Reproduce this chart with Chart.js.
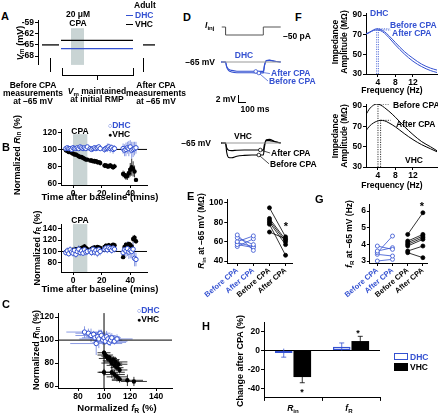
<!DOCTYPE html>
<html><head><meta charset="utf-8">
<script src="https://cdn.jsdelivr.net/npm/chart.js@4.4.0/dist/chart.umd.min.js"></script>
<style>
body{margin:0;background:#fff}
#fig{position:relative;width:438px;height:414px;overflow:hidden;font-family:"Liberation Sans",Arial,sans-serif;font-weight:bold;font-size:8.5px;color:#000}
#fig canvas{position:absolute}
.tx{position:absolute;white-space:nowrap;line-height:1}
.tx sub{font-size:72%;vertical-align:-0.3em;line-height:0}
.ln{position:absolute;background:#000}
</style></head><body><div id="fig"></div>
<script>
const BLUE = '#3451d1';
const GRAYBOX = '#c9d4d4';

// A: protocol schematic (arbitrary time units, mV)
const aYTicks = [-68, -65, -62, -59];
const aBeforeT = [4, 21], aBeforeV = [-65, -65];
const aHoldT = [23, 95], aHoldDHC = [-66, -66], aHoldVHC = [-63.8, -63.8];
const aAfterT = [105, 117], aAfterV = [-65, -65];
const aCpa = [33, 46];

// B: time course (min, % of baseline)
const bTime = [-5,-4,-3,-2,-1,0,1,2,3,4,5,6,7,8,9,10,12,13,14,15,16,17,18,19,22,23,24,25,26,27,28,29,35,36,37,38,39,40,41,42,43,44];
const bDhcRin = [101,102,101,101,100,102,101,101,102,101,103,102,101,102,101,103,101,100,101,102,101,102,103,101,100,101,102,103,101,102,100,101,101,99,100,102,101,103,99,100,101,102];
const bDhcRinErr = [2,2,2,2,2,2,2,2,2,2,2,2,2,2,2,2,3,3,3,3,3,3,3,3,4,4,5,4,5,4,5,4,6,7,8,7,9,8,10,9,8,7];
const bVhcRin = [99,98,97,97,96,95,94,94,93,92,91,91,90,89,88,88,87,87,86,86,86,85,85,84,81,81,80,80,81,80,79,80,71,70,68,69,72,76,79,77,74,64];
const bVhcRinErr = [1,1,1,1,1,1,1,1,2,2,2,2,2,2,2,2,2,2,2,3,2,3,2,3,3,3,3,3,3,3,3,3,4,4,4,5,6,8,10,9,7,2];
const bDhcFr = [98,101,96,103,99,97,102,95,100,104,98,101,97,103,99,100,101,98,104,99,102,97,103,100,104,106,103,107,105,102,106,104,98,103,101,105,99,102,100,104,88,86];
const bDhcFrErr = [5,6,5,6,5,6,7,6,5,7,6,6,5,7,6,6,5,6,7,6,6,7,6,7,6,7,6,7,6,6,7,6,10,12,11,13,12,14,12,13,14,12];
const bVhcFr = [99,101,100,102,101,103,102,104,103,105,104,106,107,109,106,104,103,105,106,107,105,108,107,106,108,110,109,111,108,110,112,111,90,108,112,110,113,111,109,122,124,118];
const bVhcFrErr = [2,2,2,2,2,3,2,3,2,3,3,3,3,4,3,3,3,3,3,4,3,3,4,3,3,4,3,4,3,4,3,4,3,5,4,5,4,5,6,6,5,4];
const bCpa = [0, 10];

// C: normalized fR vs normalized Rin
const cDhcF = [85,88,90,92,93,95,96,97,98,99,100,101,102,103,104,105,106,108,110,94];
const cDhcFErr = [14,10,12,8,10,9,15,8,11,7,12,9,10,8,13,9,7,10,12,20];
const cDhcR = [107,106,104,105,102,103,101,106,104,100,102,99,103,101,98,100,102,99,101,97];
const cDhcRErr = [5,4,6,3,5,4,8,3,5,4,6,3,5,4,3,5,4,3,4,10];
const cVhcF = [100,101,102,103,104,105,106,107,108,109,110,111,112,106,108,100,110,112,118,123];
const cVhcFErr = [5,6,4,7,5,6,8,5,6,9,5,7,6,10,8,5,8,6,12,10];
const cVhcR = [89,87,86,84,85,82,80,83,78,81,76,79,74,72,70,72,68,66,65,64];
const cVhcRErr = [2,3,2,3,2,3,4,3,3,4,3,4,3,5,4,3,4,3,5,4];

// D: voltage responses (ms, mV) and current step (pA)
const stimTime = [-50, 0, 0, 500, 500, 730];
const stimAmp = [0, 0, -50, -50, 0, 0];
const dTime = [-60, 0, 15, 40, 80, 150, 250, 350, 450, 500, 515, 540, 580, 650, 730];
const dDhcBefore = [-65,-65,-66.3,-67.1,-67.5,-67.7,-67.7,-67.7,-67.75,-67.75,-66.0,-64.6,-64.5,-64.8,-65];
const dDhcAfter = [-65,-65,-66.1,-66.8,-67.1,-67.3,-67.3,-67.3,-67.35,-67.35,-65.8,-64.7,-64.6,-64.8,-65];
const dVhcBefore = [-65,-65,-67.3,-68.6,-68.7,-68.3,-68.1,-68.0,-68.0,-68.0,-66.0,-64.2,-64.1,-64.6,-65];
const dVhcAfter = [-65,-65,-66.2,-66.8,-66.9,-66.8,-66.75,-66.75,-66.75,-66.75,-65.3,-64.4,-64.4,-64.7,-65];
const dBaseT = [-50, 730];

// E, G: paired values
const eLabels = ['Before CPA', 'After CPA', 'Before CPA', 'After CPA'];
const eDhcBefore = [67, 64, 60, 57, 55, 59];
const eDhcAfter = [51, 57, 66, 54, 63, 55];
const eVhcBefore = [95, 84, 82, 80, 78, 70];
const eVhcAfter = [65, 62, 60, 57, 46, 63];
const gDhcBefore = [3.9, 3.6, 3.5, 3.4, 3.0];
const gDhcAfter = [3.7, 3.8, 4.5, 3.3, 3.1];
const gVhcBefore = [4.6, 4.2, 4.1, 4.0, 3.9, 3.6, 3.5];
const gVhcAfter = [5.9, 4.6, 4.5, 4.4, 4.3, 3.9, 3.2];

// F: impedance profiles (Hz, MOhm)
const fFreq = [1.3, 2, 3, 3.7, 4.5, 5.5, 6.5, 8, 10, 12, 14, 16, 17.5];
const fDhcBefore = [71, 72.5, 75, 76, 75.5, 73, 69, 62, 53, 46, 40, 36, 34];
const fDhcAfter = [70.5, 72, 74.3, 74.8, 74.3, 71.5, 67, 59.5, 50.5, 43, 37.5, 33.5, 31.5];
const fVhcBefore = [82, 87, 91, 92, 91.3, 88.5, 85, 79, 70, 62, 55, 50, 46];
const fVhcAfter = [66, 70, 73.5, 75, 76, 75.5, 73.5, 69.5, 63, 57, 52, 48, 45];
const fDhcPeakF = [3.7, 4.1], fDhcPeakZ = [76, 74.8];
const fVhcPeakF = [4.0, 4.6], fVhcPeakZ = [92, 76];

// H: change after CPA (%)
const hCats = ['Rin', 'fR'];
const hDhc = [-2.5, 4], hDhcErr = [4.5, 4];
const hVhc = [-28, 10], hVhcErr = [6, 5];

Chart.defaults.font.family = '"Liberation Sans", Arial, sans-serif';
Chart.defaults.font.size = 8.5;
Chart.defaults.font.weight = 'bold';
Chart.defaults.color = '#000';
Chart.defaults.animation = false;
Chart.defaults.responsive = false;
Chart.defaults.events = [];
Chart.defaults.plugins.legend.display = false;
Chart.defaults.plugins.tooltip.enabled = false;

const shade = {
  id: 'shade',
  beforeDatasetsDraw(chart, args, o) {
    if (!o || o.x0 === undefined) return;
    const {ctx, chartArea: a, scales: {x, y}} = chart;
    const l = x.getPixelForValue(o.x0), r = x.getPixelForValue(o.x1);
    const top = o.y1 === undefined ? a.top : y.getPixelForValue(o.y1);
    ctx.save();
    ctx.fillStyle = GRAYBOX;
    ctx.fillRect(l, top, r - l, a.bottom - top);
    ctx.restore();
  }
};

const errorBars = {
  id: 'errorBars',
  beforeDatasetsDraw(chart) {
    const {ctx, scales: {x, y}} = chart;
    chart.data.datasets.forEach((ds, i) => {
      if (!ds.errY && !ds.errX) return;
      const meta = chart.getDatasetMeta(i);
      ctx.save();
      ctx.strokeStyle = ds.errColor || ds.borderColor;
      ctx.lineWidth = ds.errWidth || 0.8;
      ctx.beginPath();
      meta.data.forEach((el, j) => {
        const raw = ds.data[j];
        const vy = typeof raw === 'number' ? raw : raw.y;
        if (ds.errY) {
          const y0 = y.getPixelForValue(vy - ds.errY[j]), y1 = y.getPixelForValue(vy + ds.errY[j]);
          ctx.moveTo(el.x, y0); ctx.lineTo(el.x, y1);
          if (ds.cap) {
            const yc = vy < 0 ? y0 : y1;
            ctx.moveTo(el.x - ds.cap, yc); ctx.lineTo(el.x + ds.cap, yc);
          }
        }
        if (ds.errX) {
          const x0 = x.getPixelForValue(raw.x - ds.errX[j]), x1 = x.getPixelForValue(raw.x + ds.errX[j]);
          ctx.moveTo(x0, el.y); ctx.lineTo(x1, el.y);
        }
      });
      ctx.stroke();
      ctx.restore();
    });
  }
};
Chart.register(shade, errorBars);

const fig = document.getElementById('fig');
const pts = (xs, ys) => xs.map((x, i) => ({x, y: ys[i]}));
const seg = (xs, ys, color, w, dash) => ({
  data: pts(xs, ys), showLine: true, borderColor: color, borderWidth: w || 1.2,
  pointRadius: 0, borderDash: dash || [], tension: 0, order: 5
});
const curve = (xs, ys, color, w) => Object.assign(seg(xs, ys, color, w), {cubicInterpolationMode: 'monotone'});
const dhcPts = {pointRadius: 2.2, pointBackgroundColor: '#fff', pointBorderColor: BLUE, pointBorderWidth: 1, borderColor: BLUE, errColor: '#6f83dc'};
const vhcPts = {pointRadius: 2.2, pointBackgroundColor: '#000', pointBorderColor: '#000', pointBorderWidth: 0, borderColor: '#000'};

function axis(min, max, ticks, extra) {
  return Object.assign({
    type: 'linear', min, max,
    afterBuildTicks: s => { s.ticks = ticks.map(v => ({value: v})); },
    grid: {drawOnChartArea: false, drawTicks: true, tickLength: 3, tickColor: '#000', color: '#000', lineWidth: 1},
    border: {color: '#000', width: 1},
    ticks: {color: '#000', padding: 1, autoSkip: false, maxRotation: 0, minRotation: 0}
  }, extra || {});
}

function makeChart(area, ax, xh, cfg) {
  const [l, t, r, b] = area, pt = 6, pr = 6;
  const c = document.createElement('canvas');
  c.width = r - l + ax + pr; c.height = b - t + pt + xh;
  c.style.left = (l - ax) + 'px'; c.style.top = (t - pt) + 'px';
  fig.appendChild(c);
  const sc = cfg.options.scales;
  const pad = {left: 0, top: pt, right: pr, bottom: 0};
  if (sc.y.display === false) pad.left = ax; else sc.y.afterFit = s => { s.width = ax; };
  if (sc.x.display === false) pad.bottom = xh; else sc.x.afterFit = s => { s.height = xh; };
  cfg.options.layout = {autoPadding: false, padding: pad};
  return new Chart(c, cfg);
}

function txt(html, x, y, o) {
  o = o || {};
  const d = document.createElement('div');
  d.className = 'tx';
  d.innerHTML = html;
  d.style.left = x + 'px'; d.style.top = y + 'px';
  const tx = {l: '0%', c: '-50%', r: '-100%'}[o.a || 'l'];
  d.style.transform = 'translate(' + tx + ',-50%)' + (o.rot ? ' rotate(' + o.rot + 'deg)' : '');
  if (o.size) d.style.fontSize = o.size + 'px';
  if (o.color) d.style.color = o.color;
  fig.appendChild(d);
}
function rect(x, y, w, h, css) {
  const d = document.createElement('div');
  d.className = 'ln';
  d.style.cssText += 'left:' + x + 'px;top:' + y + 'px;width:' + w + 'px;height:' + h + 'px;' + (css || '');
  fig.appendChild(d);
}
const hl = (x1, x2, y, c) => rect(x1, y, x2 - x1, 1, c ? 'background:' + c : '');
const vl = (x, y1, y2) => rect(x, y1, 1, y2 - y1);

// ---------- A ----------
makeChart([38, 20, 155, 71], 18, 0, {
  type: 'scatter',
  data: {datasets: [
    seg(aBeforeT, aBeforeV, '#000', 1.3), seg(aHoldT, aHoldVHC, '#000', 1.3),
    seg(aHoldT, aHoldDHC, BLUE, 1.3), seg(aAfterT, aAfterV, '#000', 1.3)
  ]},
  options: {
    scales: {x: {display: false, min: 0, max: 117}, y: axis(-70.4, -58.3, aYTicks)},
    plugins: {shade: {x0: aCpa[0], x1: aCpa[1], y1: -60.5}}
  }
});
vl(50, 58, 72); vl(143, 58, 72);
vl(62, 68, 75); vl(133, 68, 75); hl(62, 134, 75); vl(97, 75, 80);
hl(126, 133, 15, BLUE); hl(126, 133, 24);

// ---------- B ----------
const bScaleX = () => axis(-8.4, 51.7, [0, 20, 40]);
makeChart([61, 129, 147, 185], 22, 12, {
  type: 'scatter',
  data: {datasets: [
    Object.assign({data: pts(bTime, bDhcRin), errY: bDhcRinErr, order: 0}, dhcPts),
    Object.assign({data: pts(bTime, bVhcRin), errY: bVhcRinErr, order: 1}, vhcPts),
    seg([-8.4, 51.7], [100, 100], '#000', 1)
  ]},
  options: {scales: {x: bScaleX(), y: axis(58, 124, [60, 80, 100, 120])},
    plugins: {shade: {x0: bCpa[0], x1: bCpa[1], y1: 118}}}
});
makeChart([61, 224, 147, 272], 22, 12, {
  type: 'scatter',
  data: {datasets: [
    Object.assign({data: pts(bTime, bDhcFr), errY: bDhcFrErr, order: 0}, dhcPts),
    Object.assign({data: pts(bTime, bVhcFr), errY: bVhcFrErr, order: 1}, vhcPts),
    seg([-8.4, 51.7], [100, 100], '#000', 1)
  ]},
  options: {scales: {x: bScaleX(), y: axis(64, 148, [80, 100, 120, 140])},
    plugins: {shade: {x0: bCpa[0], x1: bCpa[1]}}}
});

// ---------- C ----------
makeChart([58, 313, 172, 388], 22, 12, {
  type: 'scatter',
  data: {datasets: [
    Object.assign({data: pts(cDhcF, cDhcR), errX: cDhcFErr, errY: cDhcRErr, order: 0}, dhcPts),
    Object.assign({data: pts(cVhcF, cVhcR), errX: cVhcFErr, errY: cVhcRErr, order: 1}, vhcPts),
    seg([64.6, 152.3], [100, 100], '#000', 1), seg([100, 100], [58.3, 123.5], '#000', 1)
  ]},
  options: {scales: {x: axis(64.6, 152.3, [80, 100, 120, 140]), y: axis(58.3, 123.5, [60, 80, 100, 120])}}
});

// ---------- D ----------
const dX = () => ({display: false, type: 'linear', min: -60, max: 800});
makeChart([221, 26, 286, 36], 0, 0, {
  type: 'scatter',
  data: {datasets: [seg(stimTime, stimAmp, '#555', 1)]},
  options: {scales: {x: dX(), y: {display: false, min: -56.25, max: 6.25}}}
});
makeChart([221, 55, 286, 85], 0, 0, {
  type: 'scatter',
  data: {datasets: [
    seg(dBaseT, [-65, -65], '#999', 1),
    curve(dTime, dDhcBefore, BLUE, 1.1), curve(dTime, dDhcAfter, BLUE, 1.1),
    seg([440, 562], [-67.75, -69.75], BLUE, 0.7), seg([400, 588], [-67.35, -67.9], BLUE, 0.7),
    {data: pts([440, 400], [-67.75, -67.35]), pointRadius: 1.8, pointBackgroundColor: '#fff', pointBorderColor: BLUE, pointBorderWidth: 0.8}
  ]},
  options: {scales: {x: dX(), y: {display: false, min: -70.75, max: -63.25}}}
});
makeChart([221, 133, 286, 168], 0, 0, {
  type: 'scatter',
  data: {datasets: [
    seg(dBaseT, [-65, -65], '#999', 1),
    curve(dTime, dVhcBefore, '#000', 1.1), curve(dTime, dVhcAfter, '#000', 1.1),
    seg([440, 575], [-68, -70.2], '#000', 0.7), seg([460, 590], [-66.75, -67.5], '#000', 0.7),
    {data: pts([440, 460], [-68, -66.75]), pointRadius: 1.8, pointBackgroundColor: '#fff', pointBorderColor: '#000', pointBorderWidth: 0.8}
  ]},
  options: {scales: {x: dX(), y: {display: false, min: -71.25, max: -62.5}}}
});
vl(238, 95, 103); hl(238, 246, 102);

// ---------- E, G ----------
function pairSets(before, after, x0, color, open) {
  return before.map((v, i) => ({
    data: [{x: x0, y: v}, {x: x0 + 1, y: after[i]}], showLine: true,
    borderColor: color, borderWidth: 0.8, pointRadius: 2,
    pointBackgroundColor: open ? '#fff' : color, pointBorderColor: color, pointBorderWidth: 0.8
  }));
}
const pairX = (min, max) => axis(min, max, [1, 2, 3, 4], {
  ticks: {autoSkip: false, minRotation: 40, maxRotation: 40, padding: 0, font: {size: 7.5},
    callback: v => eLabels[v - 1], color: c => c.index < 2 ? BLUE : '#000'}
});
makeChart([221, 199, 292, 263], 18, 40, {
  type: 'scatter',
  data: {datasets: pairSets(eDhcBefore, eDhcAfter, 1, BLUE, true).concat(pairSets(eVhcBefore, eVhcAfter, 3, '#000', false))},
  options: {scales: {x: pairX(0.38, 4.4), y: axis(38, 104, [40, 60, 80, 100])}}
});
makeChart([358, 204, 427, 263], 14, 40, {
  type: 'scatter',
  data: {datasets: pairSets(gDhcBefore, gDhcAfter, 1, BLUE, true).concat(pairSets(gVhcBefore, gVhcAfter, 3, '#000', false))},
  options: {scales: {x: pairX(0.51, 4.27), y: axis(2.88, 6.42, [3, 4, 5, 6])}}
});

// ---------- F ----------
function impedance(area, before, after, pf, pz, color) {
  const dash = [1.2, 1.2];
  return makeChart(area, 16, 12, {
    type: 'scatter',
    data: {datasets: [
      curve(fFreq, before, color, 1), curve(fFreq, after, color, 1),
      seg([pf[0], pf[0]], [30, pz[0]], color, 0.8, dash), seg([pf[1], pf[1]], [30, pz[1]], color, 0.8, dash),
      seg([pf[0], 6.6], [pz[0], pz[0]], color, 0.8, dash), seg([pf[1], 6.9], [pz[1], pz[1]], color, 0.8, dash)
    ]},
    options: {scales: {x: axis(1.26, 17.5, [4, 8, 12]), y: axis(30, 92, [30, 50, 70, 90])}}
  });
}
impedance([366, 13, 437, 74], fDhcBefore, fDhcAfter, fDhcPeakF, fDhcPeakZ, BLUE);
impedance([366, 104, 437, 167], fVhcBefore, fVhcAfter, fVhcPeakF, fVhcPeakZ, '#000');

// ---------- H ----------
makeChart([264, 322, 380, 398], 20, 6, {
  type: 'bar',
  data: {labels: hCats, datasets: [
    {data: hDhc, errY: hDhcErr, cap: 2.5, backgroundColor: 'rgba(0,0,0,0)', borderColor: BLUE, borderWidth: 1.3, borderSkipped: false, errColor: BLUE},
    {data: hVhc, errY: hVhcErr, cap: 2.5, backgroundColor: '#000', borderColor: '#000', borderWidth: 0, errColor: '#000'}
  ]},
  options: {
    datasets: {bar: {categoryPercentage: 0.64, barPercentage: 0.95}},
    scales: {
      x: {type: 'category', grid: {drawOnChartArea: false, tickLength: 3, tickColor: '#000', offset: true},
          border: {color: '#000'}, ticks: {display: false}},
      y: axis(-50, 30, [-40, -20, 0, 20], {grid: {drawOnChartArea: true, tickLength: 3, tickColor: '#000',
          color: c => c.tick && c.tick.value === 0 ? '#000' : 'rgba(0,0,0,0)'}})
    }
  }
});

// ---------- text ----------
const L = {size: 11};
txt('A', 1, 16, L); txt('B', 2, 147, L); txt('C', 2, 304, L); txt('D', 183, 17, L);
txt('E', 187, 196, L); txt('F', 295, 17, L); txt('G', 315, 199, L); txt('H', 202, 326, L);

txt('20 μM', 78, 14, {a: 'c'}); txt('CPA', 78, 23, {a: 'c'});
txt('Adult', 134, 5); txt('DHC', 135, 15, {color: BLUE}); txt('VHC', 135, 24);
txt('<i>V</i><sub>m</sub> (mV)', 20, 43, {a: 'c', rot: -90, size: 9});
txt('Before CPA', 33, 85, {a: 'c'}); txt('measurements', 33, 93, {a: 'c'}); txt('at –65 mV', 33, 101, {a: 'c'});
txt('<i>V</i><sub>m</sub> maintained', 97, 91, {a: 'c'}); txt('at initial RMP', 97, 99, {a: 'c'});
txt('After CPA', 156, 85, {a: 'c'}); txt('measurements', 156, 93, {a: 'c'}); txt('at –65 mV', 156, 101, {a: 'c'});

txt('CPA', 80, 131, {a: 'c'});
txt('<span style="font-size:7px">○</span>DHC', 108, 125, {color: BLUE});
txt('<span style="font-size:7px">●</span>VHC', 108, 134);
txt('Normalized <i>R</i><sub>in</sub> (%)', 17, 155, {a: 'c', rot: -90, size: 9});
txt('Time after baseline (mins)', 100, 197, {a: 'c', size: 9.5});
txt('CPA', 80, 220, {a: 'c'});
txt('Normalized <i>f</i><sub>R</sub> (%)', 37, 248, {a: 'c', rot: -90, size: 9});
txt('Time after baseline (mins)', 100, 289, {a: 'c', size: 9.5});

txt('<span style="font-size:7px">○</span>DHC', 137, 310, {color: BLUE});
txt('<span style="font-size:7px">●</span>VHC', 137, 319);
txt('Normalized <i>R</i><sub>in</sub> (%)', 36, 350, {a: 'c', rot: -90, size: 9});
txt('Normalized <i>f</i><sub>R</sub> (%)', 117, 408, {a: 'c', size: 9.5});

txt('<i>I</i><sub>inj</sub>', 205, 25);
txt('–50 pA', 283, 36);
txt('–65 mV', 215, 62, {a: 'r'}); txt('DHC', 244, 55, {a: 'c', color: BLUE});
txt('After CPA', 271, 73, {color: BLUE}); txt('Before CPA', 269, 81, {color: BLUE});
txt('2 mV', 236, 99, {a: 'r'}); txt('100 ms', 255, 109, {a: 'c'});
txt('–65 mV', 211, 143, {a: 'r'}); txt('VHC', 243, 136, {a: 'c'});
txt('After CPA', 271, 153); txt('Before CPA', 270, 164);

txt('<i>R</i><sub>in</sub> at –65 mV (MΩ)', 201, 231, {a: 'c', rot: -90});
txt('*', 286, 226, {a: 'c', size: 11});
txt('<i>f</i><sub>R</sub> at –65 mV (Hz)', 349, 234, {a: 'c', rot: -90});
txt('*', 422, 206, {a: 'c', size: 11});

txt('DHC', 370, 13, {color: BLUE});
txt('Before CPA', 390, 25, {color: BLUE}); txt('After CPA', 392, 33, {color: BLUE});
txt('Impedance', 335, 42, {a: 'c', rot: -90}); txt('Amplitude (MΩ)', 344, 42, {a: 'c', rot: -90});
txt('Frequency (Hz)', 392, 90, {a: 'c'});
txt('Before CPA', 393, 105); txt('After CPA', 396, 124); txt('VHC', 405, 160);
txt('Impedance', 335, 136, {a: 'c', rot: -90}); txt('Amplitude (MΩ)', 344, 136, {a: 'c', rot: -90});
txt('Frequency (Hz)', 392, 185, {a: 'c'});

txt('Change after CPA (%)', 240, 361, {a: 'c', rot: -90, size: 9});
txt('<i>R</i><sub>in</sub>', 293, 408, {a: 'c'}); txt('<i>f</i><sub>R</sub>', 349, 408, {a: 'c'});
txt('*', 302, 392, {a: 'c', size: 9}); txt('*', 358, 333, {a: 'c', size: 9});
rect(394, 353, 14, 7, 'background:#fff;border:1.3px solid ' + BLUE + ';box-sizing:border-box');
rect(394, 363, 14, 8);
txt('DHC', 410, 357, {color: BLUE}); txt('VHC', 410, 367);
</script></body></html>
